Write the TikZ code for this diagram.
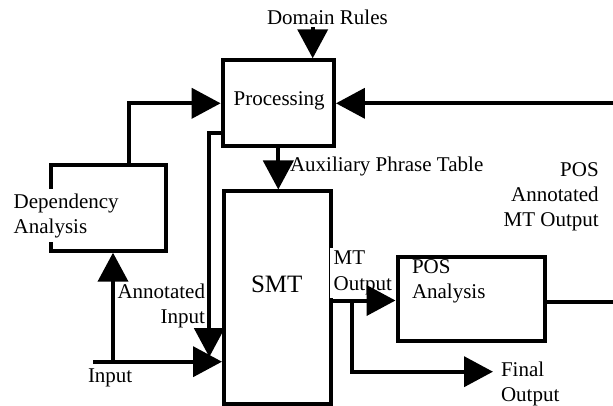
\documentclass[tikz,border=0pt]{standalone}
\usepackage{fontspec}
\setmainfont{Liberation Serif}
\usetikzlibrary{arrows.meta}
\begin{document}
\begin{tikzpicture}[x=1pt,y=-1pt,
  line width=4pt,
  font=\fontsize{21}{25}\selectfont,
  box/.style={draw,line width=4pt,inner sep=0pt,outer sep=2pt},
  arr/.style={-{Triangle[length=29pt,width=30pt]}},
  lbl/.style={inner sep=0pt,anchor=base west}]
\useasboundingbox (0,0) rectangle (613,406);
% boxes
\node[box,minimum width=114.4pt,minimum height=86pt] (dep) at (108.5,207.7) {};
\node[box,minimum width=111.3pt,minimum height=86pt] (proc) at (278.3,103.3) {};
\node[box,minimum width=106.5pt,minimum height=212.5pt] (smt) at (277.25,297.75) {};
\node[box,minimum width=147.5pt,minimum height=83.5pt] (pos) at (471.25,298.75) {};
% labels
\node[lbl] (tdom) at (265,25) {Domain Rules};
\node[lbl] (tproc) at (231.7,106) {Processing};
\node[lbl] (taux) at (288,172) {Auxiliary Phrase Table};
\node[lbl,anchor=base east] (tposmt) at (600.7,176.7)
  {\begin{tabular}[t]{@{}r@{}}POS\\Annotated\\MT Output\end{tabular}};
\node[lbl,fill=white,inner sep=1pt] (tdep) at (10.7,208)
  {\begin{tabular}[t]{@{}l@{}}Dependency\\Analysis\end{tabular}};
\node[lbl,anchor=base east] (tann) at (207,298)
  {\begin{tabular}[t]{@{}r@{}}Annotated\\Input\end{tabular}};
\node[lbl] (tin) at (86,382) {Input};
\node[lbl,font=\fontsize{25}{30}\selectfont] (tsmt) at (249,292) {SMT};
\node[lbl,fill=white,inner xsep=4pt,inner ysep=0pt] (tmt) at (327.7,265)
  {\begin{tabular}[t]{@{}l@{}}MT\\Output\end{tabular}};
\node[lbl] (tpos) at (410,273)
  {\begin{tabular}[t]{@{}l@{}}POS\\Analysis\end{tabular}};
\node[lbl] (tfin) at (499,376)
  {\begin{tabular}[t]{@{}l@{}}Final\\Output\end{tabular}};
% connectors
\coordinate (drtop) at (312.7,27);
\draw[arr] (drtop) -- (drtop |- proc.north);
\draw[arr] ([xshift=20.8pt]dep.north) |- (proc.west);
\coordinate (rin) at (613,103.3);
\draw[arr] (rin) -- (proc.east);
\draw[arr] (proc.south) -- (proc.south |- smt.north);
\coordinate (loopa) at (209.3,133);
\coordinate (loopb) at (209.3,357);
\draw[arr] (proc.west |- loopa) -| (loopb);
\coordinate (inp) at (93,361.7);
\draw[arr] (inp) -- (inp -| smt.west);
\coordinate (inj) at (113,361.7);
\draw[arr] (inj) -- (inj |- dep.south);
\coordinate (mto) at (330,300.5);
\draw[arr] (smt.east |- mto) -- (pos.west |- mto);
\coordinate (br) at (351.7,300.5);
\coordinate (fo) at (493,371.7);
\draw[arr] (br) |- (fo);
\coordinate (pout) at (613,301.5);
\draw (pos.east |- pout) -- (pout);
\end{tikzpicture}
\end{document}
